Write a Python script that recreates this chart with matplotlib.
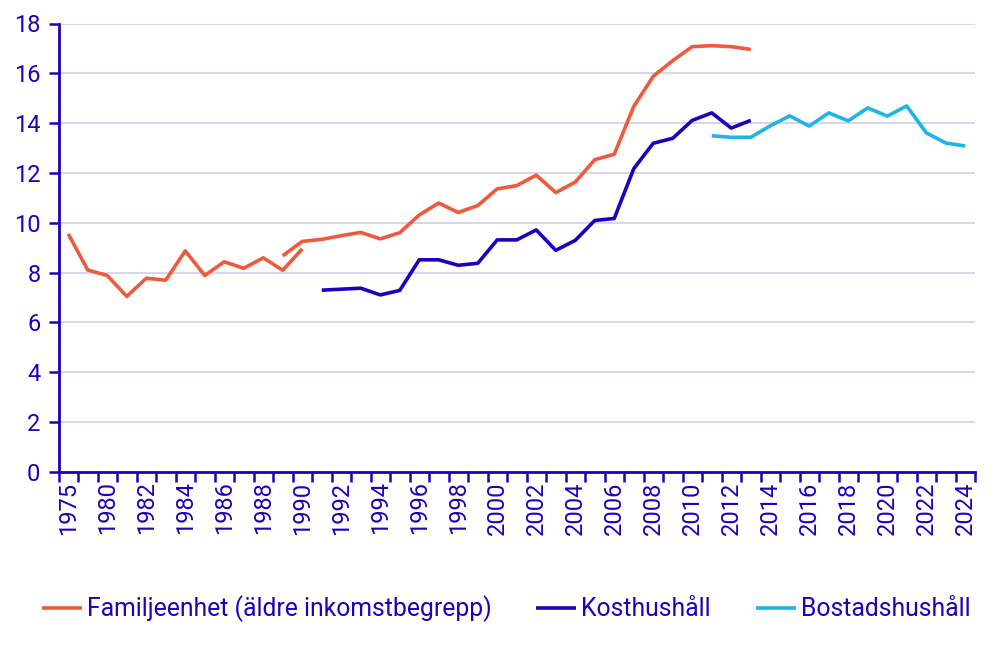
import matplotlib
matplotlib.use("Agg")
import matplotlib.pyplot as plt
import numpy as np

years = [1975, 1978] + list(range(1980, 2025))

# Familjeenhet (äldre inkomstbegrepp) – first series 1975–1990
fam_old_years = [1975, 1978, 1980, 1981, 1982, 1983, 1984, 1985, 1986, 1987, 1988, 1989, 1990]
fam_old_vals = [9.55, 8.1, 7.88, 7.04, 7.77, 7.69, 8.87, 7.88, 8.43, 8.17, 8.59, 8.09, 8.95]

# Familjeenhet – second series 1989–2013
fam_new_years = list(range(1989, 2014))
fam_new_vals = [8.67, 9.25, 9.33, 9.48, 9.61, 9.35, 9.6, 10.31, 10.79, 10.41, 10.69,
                11.36, 11.49, 11.91, 11.21, 11.63, 12.53, 12.75, 14.67, 15.88, 16.51,
                17.07, 17.11, 17.07, 16.96]

# Kosthushåll 1991–2013
kost_years = list(range(1991, 2014))
kost_vals = [7.29, 7.33, 7.37, 7.1, 7.28, 8.51, 8.51, 8.29, 8.37, 9.31, 9.31, 9.71,
             8.89, 9.29, 10.09, 10.17, 12.17, 13.19, 13.39, 14.11, 14.41, 13.8, 14.11]

# Bostadshushåll 2011–2024
bost_years = list(range(2011, 2025))
bost_vals = [13.49, 13.43, 13.43, 13.89, 14.29, 13.88, 14.41, 14.09, 14.61, 14.28,
             14.69, 13.61, 13.2, 13.08]

labels = ["Familjeenhet (äldre inkomstbegrepp)", "Kosthushåll", "Bostadshushåll"]

TEXT = "#1e00be"
ORANGE = "#f05a3c"
DARK = "#1e00be"
LIGHT = "#1eb4e6"
GRID = "#d2d2f0"

plt.rcParams['font.family'] = ['Roboto', 'DejaVu Sans']

idx = {y: i for i, y in enumerate(years)}

fig = plt.figure(figsize=(10.06, 6.49), dpi=100)
W, H = 1006, 649
ax = fig.add_axes([58.5 / W, 1 - 471.7 / H, (975 - 58.5) / W, (471.7 - 23.5) / H])

lw = 2.6
l1, = ax.plot([idx[y] for y in fam_old_years], fam_old_vals, color=ORANGE, lw=lw, solid_capstyle='butt')
ax.plot([idx[y] for y in fam_new_years], fam_new_vals, color=ORANGE, lw=lw, solid_capstyle='butt')
l2, = ax.plot([idx[y] for y in kost_years], kost_vals, color=DARK, lw=lw, solid_capstyle='butt')
l3, = ax.plot([idx[y] for y in bost_years], bost_vals, color=LIGHT, lw=lw, solid_capstyle='butt')

ax.set_xlim(-0.5, len(years) - 0.5)
ax.set_ylim(0, 18)
ax.set_yticks(np.arange(0, 19, 2))
ax.set_yticklabels([str(v) for v in range(0, 19, 2)])
ax.grid(axis='y', color=GRID, lw=1.3)
ax.set_axisbelow(True)

ax.set_xticks(np.arange(-0.5, len(years), 1.0))
ax.set_xticklabels([])
ax.set_xticks(list(range(0, len(years), 2)), minor=True)
ax.set_xticklabels([str(years[i]) for i in range(0, len(years), 2)], minor=True, rotation=90)
ax.tick_params(axis='x', which='major', length=7, width=1.8, color=TEXT)
ax.tick_params(axis='x', which='minor', length=0, pad=7, labelsize=17, labelcolor=TEXT)
ax.tick_params(axis='y', length=7, width=1.8, color=TEXT, labelsize=17, labelcolor=TEXT, pad=6)

for s in ['top', 'right']:
    ax.spines[s].set_visible(False)
for s in ['left', 'bottom']:
    ax.spines[s].set_color(TEXT)
    ax.spines[s].set_linewidth(2)

leg = fig.legend([l1, l2, l3], labels, loc='center', bbox_to_anchor=(506 / W, 1 - 609 / H),
                 ncol=3, frameon=False, fontsize=17.8, handlelength=1.62, handletextpad=0.2,
                 columnspacing=1.82, labelcolor=TEXT)

fig.savefig("out.png", dpi=100)
